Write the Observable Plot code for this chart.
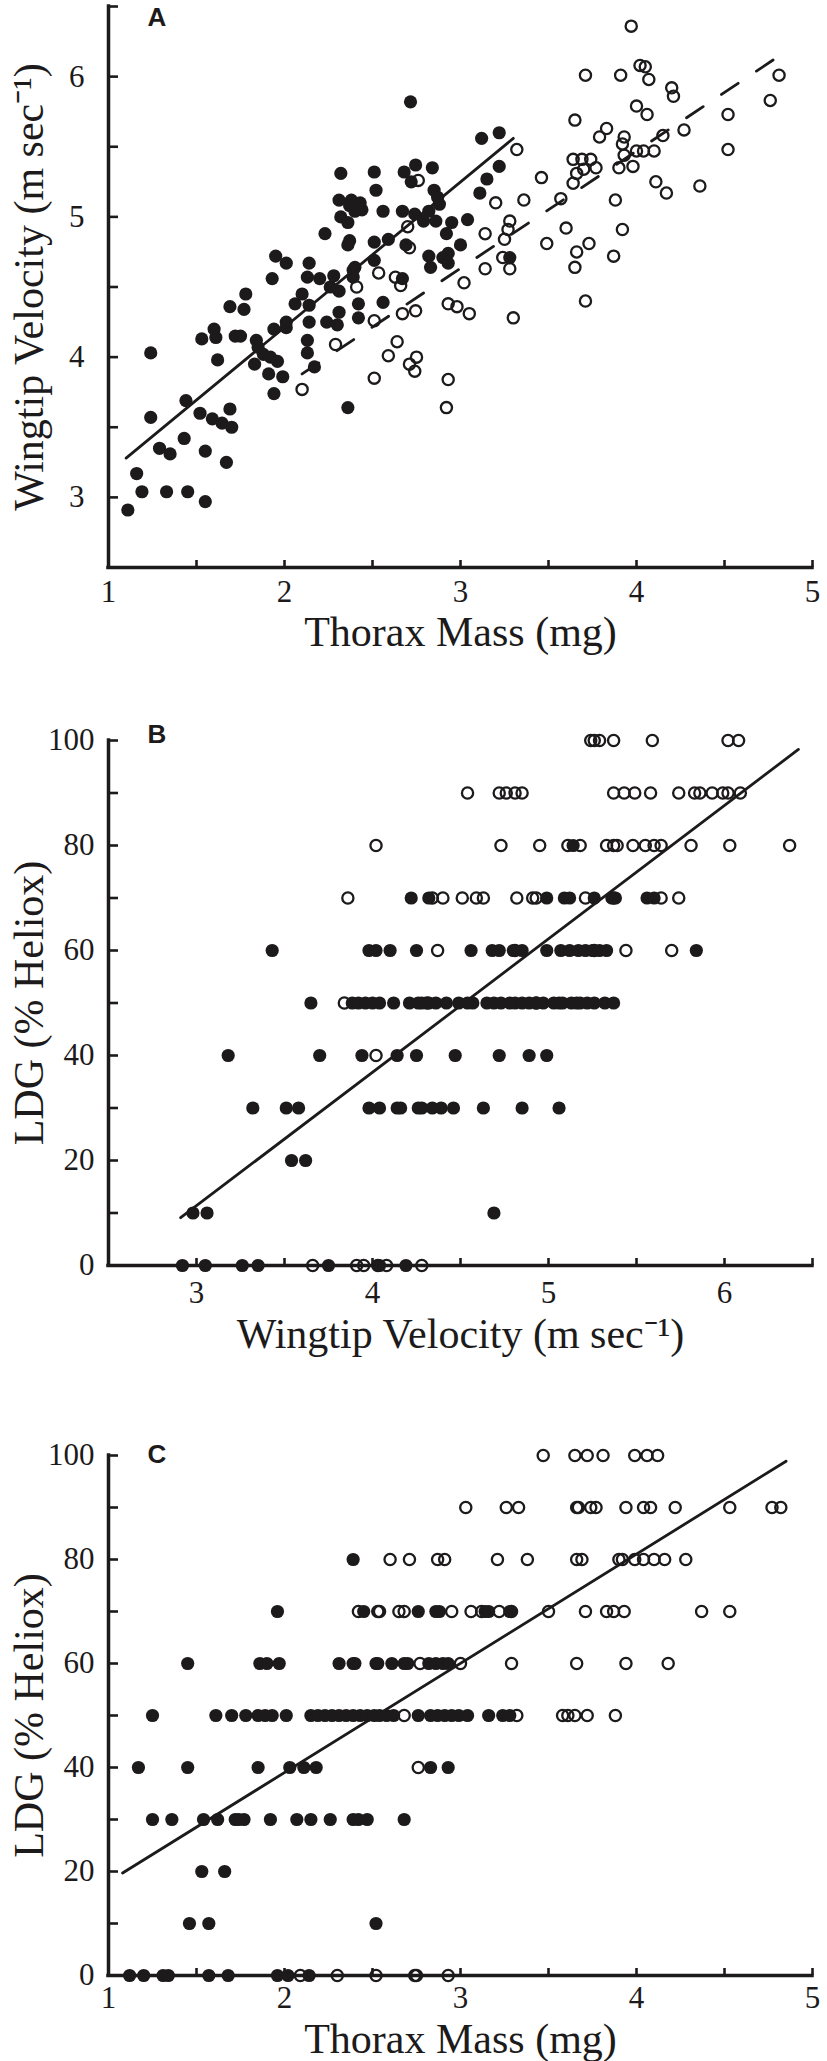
<!DOCTYPE html>
<html><head><meta charset="utf-8">
<script src="https://cdn.jsdelivr.net/npm/d3@7"></script>
<script src="https://cdn.jsdelivr.net/npm/@observablehq/plot@0.6"></script>
<style>
body{margin:0;background:#fff;}
#chart{width:827px;}
#chart svg{display:block;}
</style></head><body><div id="chart"></div>
<script>
// ---------- Panel A: thorax mass (mg) vs wingtip velocity (m/s) ----------
const aSolid = [
[1.11,2.91],[1.16,3.17],[1.19,3.04],[1.24,3.57],[1.24,4.03],[1.29,3.35],[1.35,3.31],[1.33,3.04],[1.43,3.42],[1.44,3.69],
[1.45,3.04],[1.52,3.60],[1.55,3.33],[1.55,2.97],[1.59,3.56],[1.645,3.53],[1.67,3.25],[1.69,3.63],[1.70,3.50],
[1.53,4.13],[1.60,4.20],[1.61,4.14],[1.62,3.98],[1.69,4.36],[1.77,4.34],[1.78,4.45],[1.72,4.15],[1.75,4.15],[1.84,4.12],
[1.85,4.07],[1.88,4.02],[1.92,4.00],[1.96,3.97],[1.83,3.95],[1.91,3.88],[1.99,3.86],[1.94,3.74],[1.94,4.20],[2.01,4.21],
[2.01,4.25],[1.93,4.56],[1.95,4.72],[2.01,4.67],[2.06,4.38],[2.10,4.45],[2.14,4.67],[2.13,4.57],[2.20,4.56],[2.14,4.37],
[2.14,4.25],[2.13,4.12],[2.13,4.03],[2.17,3.93],[2.24,4.25],[2.31,4.32],[2.30,4.23],[2.26,4.50],[2.28,4.58],[2.31,4.47],
[2.23,4.88],[2.31,5.12],[2.32,5.00],[2.32,5.31],[2.36,4.96],[2.37,4.83],[2.36,4.80],[2.38,5.12],[2.44,5.05],[2.36,3.64],
[2.40,4.64],[2.42,4.38],[2.42,4.28],
[2.716,5.82],[3.12,5.56],[3.22,5.60],[3.22,5.36],[3.15,5.27],[3.11,5.17],[2.51,5.32],[2.52,5.19],[2.68,5.32],[2.745,5.37],
[2.72,5.25],[2.84,5.35],[2.85,5.19],[2.87,5.14],[2.37,5.08],[2.40,5.04],[2.43,5.10],[2.56,5.04],[2.67,5.04],[2.74,5.02],
[2.82,5.04],[2.88,5.09],[2.79,4.97],[2.86,4.97],[2.95,4.96],[3.04,4.98],[2.92,4.88],[2.51,4.82],[2.59,4.84],[2.69,4.80],
[3.00,4.80],[2.82,4.72],[2.90,4.71],[2.93,4.74],[2.83,4.64],[2.93,4.67],[3.28,4.71],[2.51,4.69],[2.39,4.62],[2.39,4.57],
[2.67,4.56],[2.56,4.39]
];
const aOpen = [
[2.29,4.09],[2.10,3.77],[2.41,4.50],[3.97,6.36],[3.71,6.01],[3.91,6.01],[4.02,6.08],[4.00,5.79],[3.65,5.69],[3.83,5.63],
[3.79,5.57],[3.93,5.57],[3.92,5.52],[4.00,5.47],[3.64,5.41],[3.69,5.41],[3.74,5.41],[3.70,5.34],[3.77,5.35],[3.66,5.31],
[3.64,5.24],[3.90,5.35],[3.98,5.36],[3.93,5.44],[3.46,5.28],[3.32,5.48],[3.36,5.12],[3.57,5.13],[3.88,5.12],[3.92,4.91],
[3.60,4.92],[3.49,4.81],[3.73,4.81],[3.66,4.75],[3.65,4.64],[3.87,4.72],[3.71,4.40],[3.28,4.97],[3.27,4.91],[3.25,4.84],
[3.24,4.71],[3.28,4.63],[3.14,4.88],[3.14,4.63],[3.20,5.10],[3.30,4.28],[3.02,4.53],[2.93,4.38],[2.98,4.36],[3.05,4.31],
[2.93,3.84],[2.92,3.64],[2.75,4.00],[2.71,3.95],[2.74,3.90],[2.64,4.11],[2.59,4.01],[2.51,3.85],[2.67,4.31],[2.745,4.33],
[2.66,4.51],[2.63,4.57],[2.535,4.60],[2.71,4.78],[2.70,4.93],[2.76,5.26],[2.51,4.26],
[4.05,6.07],[4.07,5.98],[4.20,5.92],[4.21,5.86],[4.06,5.73],[4.27,5.62],[4.15,5.58],[4.04,5.47],[4.10,5.47],[4.11,5.25],
[4.17,5.17],[4.36,5.22],[4.52,5.73],[4.52,5.48],[4.81,6.01],[4.76,5.83]
];
const aFitSolid = [[1.10,3.28],[3.30,5.56]];
const aFitDashed = [[2.10,3.88],[4.79,6.13]];
const aXTicks = [1,2,3,4,5];
const aXMinor = [1.5,2,2.5,3,3.5,4,4.5,5];
const aYTicks = [3,4,5,6];
const aYMinor = [3,3.5,4,4.5,5,5.5,6,6.5];

// ---------- Panel B: wingtip velocity vs LDG (% heliox) ----------
const bSolid = [
[5.14,80],
[4.22,70],[4.32,70],[4.99,70],[5.09,70],[5.12,70],[5.26,70],[5.36,70],[5.38,70],[5.56,70],[5.60,70],
[3.43,60],[3.98,60],[4.02,60],[4.10,60],[4.25,60],[4.56,60],[4.68,60],[4.72,60],[4.80,60],[4.85,60],[4.99,60],[5.07,60],
[5.12,60],[5.17,60],[5.21,60],[5.25,60],[5.29,60],[5.33,60],[5.84,60],
[3.65,50],[3.885,50],[3.92,50],[3.96,50],[4.00,50],[4.04,50],[4.12,50],[4.21,50],[4.26,50],[4.28,50],[4.32,50],[4.36,50],
[4.42,50],[4.49,50],[4.54,50],[4.57,50],[4.65,50],[4.69,50],[4.73,50],[4.78,50],[4.81,50],[4.85,50],[4.89,50],[4.93,50],
[4.97,50],[5.03,50],[5.06,50],[5.08,50],[5.13,50],[5.16,50],[5.18,50],[5.22,50],[5.26,50],[5.32,50],[5.37,50],
[3.18,40],[3.70,40],[3.94,40],[4.14,40],[4.25,40],[4.47,40],[4.72,40],[4.89,40],[4.99,40],
[3.32,30],[3.51,30],[3.58,30],[3.98,30],[4.04,30],[4.14,30],[4.16,30],[4.26,30],[4.28,30],[4.34,30],[4.39,30],[4.46,30],
[4.63,30],[4.85,30],[5.06,30],
[3.54,20],[3.62,20],
[2.98,10],[3.06,10],[4.69,10],
[2.92,0],[3.05,0],[3.26,0],[3.35,0],[3.75,0],[4.04,0],[4.19,0]
];
const bOpen = [
[5.24,100],[5.26,100],[5.29,100],[5.37,100],[5.59,100],[6.02,100],[6.08,100],
[4.54,90],[4.72,90],[4.76,90],[4.81,90],[4.85,90],[5.37,90],[5.43,90],[5.49,90],[5.58,90],[5.74,90],[5.83,90],[5.86,90],
[5.93,90],[5.99,90],[6.02,90],[6.09,90],
[4.02,80],[4.73,80],[4.95,80],[5.11,80],[5.18,80],[5.33,80],[5.37,80],[5.39,80],[5.48,80],[5.55,80],[5.60,80],[5.64,80],
[5.81,80],[6.03,80],[6.37,80],
[3.86,70],[4.34,70],[4.40,70],[4.51,70],[4.59,70],[4.63,70],[4.82,70],[4.91,70],[4.93,70],[5.21,70],[5.37,70],[5.64,70],[5.74,70],
[4.37,60],[4.81,60],[5.26,60],[5.44,60],[5.70,60],
[3.84,50],[4.31,50],[4.93,50],
[4.02,40],
[3.66,0],[3.91,0],[3.95,0],[4.03,0],[4.08,0],[4.28,0]
];
const bFit = [[2.91,9.1],[6.42,98.3]];
const bXTicks = [3,4,5,6];
const bXMinor = [3,3.5,4,4.5,5,5.5,6,6.5];
const ldgTicks = [0,20,40,60,80,100];
const ldgMinor = [10,20,30,40,50,60,70,80,90,100];

// ---------- Panel C: thorax mass vs LDG (% heliox) ----------
const cSolid = [
[2.39,80],
[1.96,70],[2.45,70],[2.76,70],[2.86,70],[2.88,70],[3.14,70],[3.16,70],[3.28,70],
[1.45,60],[1.86,60],[1.90,60],[1.97,60],[2.31,60],[2.39,60],[2.40,60],[2.52,60],[2.53,60],[2.61,60],[2.68,60],[2.70,60],
[2.82,60],[2.86,60],[2.90,60],[2.93,60],
[1.25,50],[1.61,50],[1.70,50],[1.78,50],[1.85,50],[1.89,50],[1.93,50],[2.01,50],[2.15,50],[2.19,50],[2.23,50],[2.27,50],
[2.31,50],[2.35,50],[2.39,50],[2.43,50],[2.47,50],[2.51,50],[2.54,50],[2.58,50],[2.62,50],[2.76,50],[2.83,50],[2.87,50],
[2.91,50],[2.95,50],[2.99,50],[3.04,50],[3.16,50],[3.24,50],[3.28,50],
[1.17,40],[1.45,40],[1.85,40],[2.03,40],[2.11,40],[2.18,40],[2.83,40],[2.93,40],
[1.25,30],[1.36,30],[1.54,30],[1.62,30],[1.72,30],[1.74,30],[1.77,30],[1.92,30],[2.07,30],[2.15,30],[2.26,30],[2.39,30],
[2.42,30],[2.47,30],[2.68,30],
[1.53,20],[1.66,20],
[1.46,10],[1.57,10],[2.52,10],
[1.12,0],[1.20,0],[1.31,0],[1.34,0],[1.57,0],[1.68,0],[1.96,0],[2.02,0],[2.14,0]
];
const cOpen = [
[3.47,100],[3.65,100],[3.72,100],[3.81,100],[3.99,100],[4.06,100],[4.12,100],
[3.03,90],[3.26,90],[3.33,90],[3.66,90],[3.67,90],[3.74,90],[3.77,90],[3.94,90],[4.04,90],[4.08,90],[4.22,90],[4.53,90],
[4.77,90],[4.82,90],
[2.60,80],[2.71,80],[2.87,80],[2.91,80],[3.21,80],[3.38,80],[3.66,80],[3.69,80],[3.90,80],[3.92,80],[3.99,80],[4.04,80],
[4.10,80],[4.16,80],[4.28,80],
[2.42,70],[2.53,70],[2.54,70],[2.65,70],[2.68,70],[2.95,70],[3.06,70],[3.12,70],[3.22,70],[3.29,70],[3.50,70],[3.71,70],
[3.83,70],[3.87,70],[3.93,70],[4.37,70],[4.53,70],
[2.77,60],[3.00,60],[3.29,60],[3.66,60],[3.94,60],[4.18,60],
[2.68,50],[3.32,50],[3.58,50],[3.61,50],[3.65,50],[3.72,50],[3.88,50],
[2.76,40],
[2.09,0],[2.30,0],[2.52,0],[2.74,0],[2.75,0],[2.93,0]
];
const cFit = [[1.08,19.7],[4.85,98.9]];
const cXTicks = [1,2,3,4,5];
const cXMinor = [1.5,2,2.5,3,3.5,4,4.5,5];

const massLabel = "Thorax Mass (mg)";
const velLabel = "Wingtip Velocity (m sec\u207B\u00B9)";
const ldgLabel = "LDG (% Heliox)";

// ---------- drawing ----------
const ink = "#1c1a1b";
const serif = "'Liberation Serif', 'Times New Roman', serif";
const sans = "'Liberation Sans', Arial, sans-serif";
const plain = d => String(d);

function panel(o) {
  const fx = d => d[0], fy = d => d[1];
  const marks = [
    Plot.ruleX([o.xDomain[0]], {stroke: ink, strokeWidth: 3.5, strokeLinecap: "square"}),
    Plot.ruleY([o.yDomain[0]], {stroke: ink, strokeWidth: 3.5, strokeLinecap: "square"}),
    Plot.axisX(o.xMinor, {tickSize: -7, tickFormat: () => "", stroke: ink, strokeWidth: 2.6, label: null}),
    Plot.axisX(o.xTicks, {tickSize: 0, tickPadding: o.xPad, tickFormat: plain, fontSize: 31, fontFamily: serif, fill: ink, label: null}),
    Plot.axisY(o.yMinor, {tickSize: -10, tickFormat: () => "", stroke: ink, strokeWidth: 2.6, label: null}),
    Plot.axisY(o.yTicks, {tickSize: 0, tickPadding: o.yPad, tickFormat: plain, fontSize: 31, fontFamily: serif, fill: ink, label: null}),
    Plot.text([o.xLabel], {text: d => d, frameAnchor: "bottom", dy: o.xLabelDy, lineAnchor: "bottom", fontSize: 42, fontFamily: serif, fill: ink}),
    Plot.text([o.yLabel], {text: d => d, frameAnchor: "left", rotate: -90, dx: -66, lineAnchor: "bottom", textAnchor: "middle", fontSize: 42, fontFamily: serif, fill: ink}),
    Plot.text([o.letter], {text: d => d, frameAnchor: "top-left", dx: 39, dy: o.letterDy, lineAnchor: "bottom", textAnchor: "start", fontSize: 26, fontWeight: "bold", fontFamily: sans, fill: ink}),
    Plot.dot(o.open, {x: fx, y: fy, r: 5.6, fill: "none", stroke: ink, strokeWidth: 2.3}),
    Plot.dot(o.solid, {x: fx, y: fy, r: 6.6, fill: ink, stroke: "none"})
  ];
  for (const f of o.fits) {
    marks.push(Plot.line(f.data, {x: fx, y: fy, stroke: ink, strokeWidth: 2.8, strokeDasharray: f.dash || null}));
  }
  return Plot.plot({
    width: 827, height: o.height,
    marginTop: o.marginTop, marginBottom: o.marginBottom, marginLeft: 108, marginRight: 15,
    x: {domain: o.xDomain}, y: {domain: o.yDomain},
    style: {fontFamily: serif, background: "white", overflow: "visible", color: ink},
    marks
  });
}

const chart = document.getElementById("chart");
chart.append(panel({
  height: 690, marginTop: 6, marginBottom: 123,
  xDomain: [1, 5], yDomain: [2.5, 6.5],
  xTicks: aXTicks, xMinor: aXMinor, yTicks: aYTicks, yMinor: aYMinor,
  xPad: 12, yPad: 24, xLabel: massLabel, yLabel: velLabel, xLabelDy: 78,
  letter: "A", letterDy: 19,
  open: aOpen, solid: aSolid,
  fits: [{data: aFitSolid}, {data: aFitDashed, dash: "20,22"}]
}));
chart.append(panel({
  height: 690, marginTop: 50, marginBottom: 115,
  xDomain: [2.5, 6.5], yDomain: [0, 100],
  xTicks: bXTicks, xMinor: bXMinor, yTicks: ldgTicks, yMinor: ldgMinor,
  xPad: 15, yPad: 14, xLabel: velLabel, yLabel: ldgLabel, xLabelDy: 82,
  letter: "B", letterDy: 2,
  open: bOpen, solid: bSolid,
  fits: [{data: bFit}]
}));
chart.append(panel({
  height: 681, marginTop: 75, marginBottom: 86,
  xDomain: [1, 5], yDomain: [0, 100],
  xTicks: cXTicks, xMinor: cXMinor, yTicks: ldgTicks, yMinor: ldgMinor,
  xPad: 10, yPad: 14, xLabel: massLabel, yLabel: ldgLabel, xLabelDy: 77,
  letter: "C", letterDy: 7,
  open: cOpen, solid: cSolid,
  fits: [{data: cFit}]
}));
</script></body></html>
